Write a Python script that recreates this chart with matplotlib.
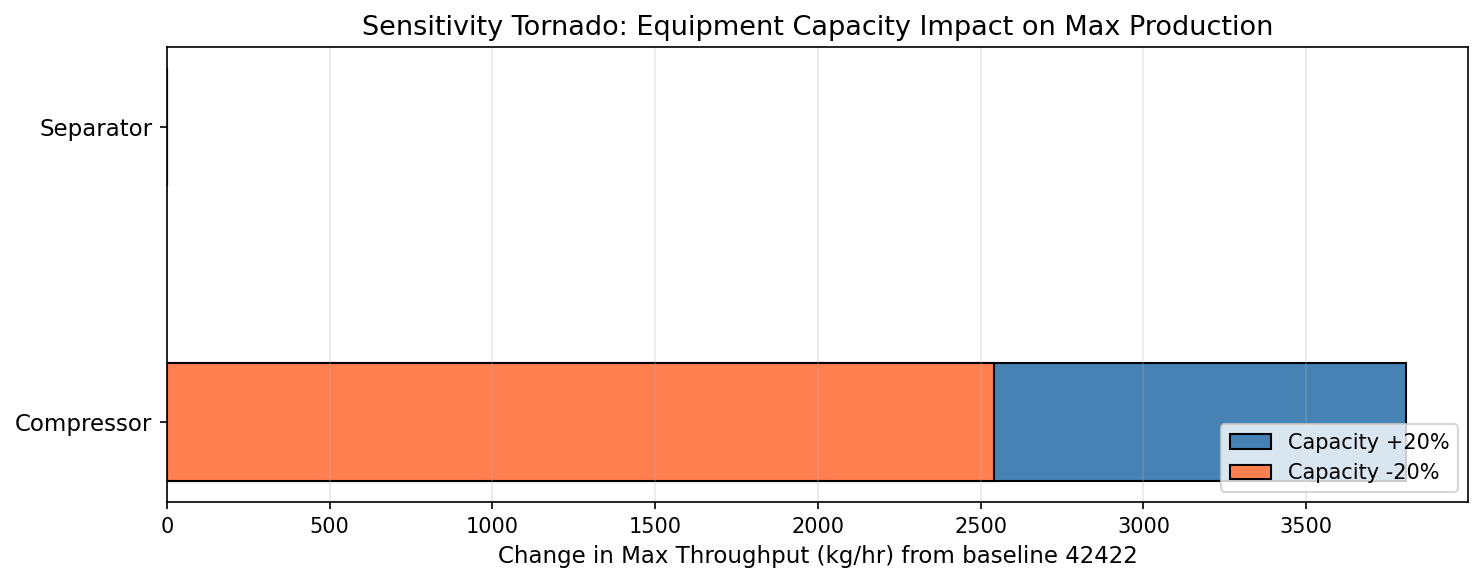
import numpy as np
import matplotlib.pyplot as plt

equipment = ["Compressor", "Separator"]
delta_up = [3808, 0]      # capacity +20%
delta_down = [2541, 0]    # capacity -20%
baseline = 42422

y = np.arange(len(equipment))

fig, ax = plt.subplots(figsize=(9.893, 3.887), dpi=150)
ax.barh(y, delta_up, height=0.4, color="steelblue", edgecolor="black", label="Capacity +20%")
ax.barh(y, delta_down, height=0.4, color="coral", edgecolor="black", label="Capacity -20%")
ax.set_yticks(y)
ax.set_yticklabels(equipment, fontsize=11)
ax.set_xlabel(f"Change in Max Throughput (kg/hr) from baseline {baseline}", fontsize=11)
ax.set_title("Sensitivity Tornado: Equipment Capacity Impact on Max Production", fontsize=13)
ax.grid(axis="x", alpha=0.3)
ax.legend(loc="lower right")
fig.subplots_adjust(left=0.1125, right=0.9895, top=0.919, bottom=0.139)
fig.savefig("out.png")
